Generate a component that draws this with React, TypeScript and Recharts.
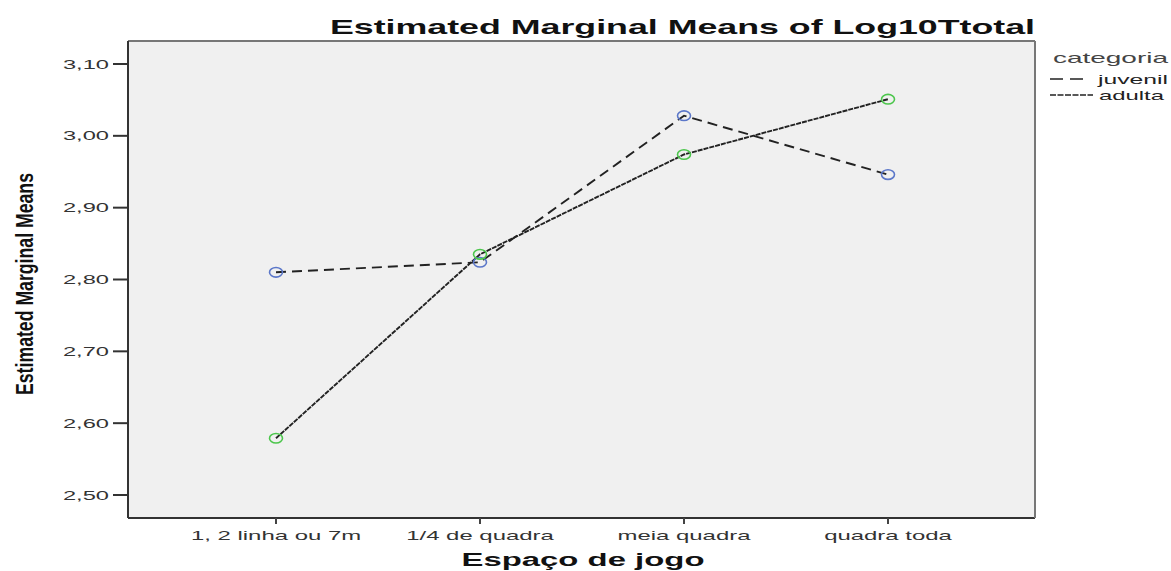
import React from 'react';
import { LineChart, Line, XAxis, YAxis, CartesianGrid, Legend, Label } from 'recharts';

const categories = ['1, 2 linha ou 7m', '1/4 de quadra', 'meia quadra', 'quadra toda'];
const juvenilValues = [2.81, 2.824, 3.028, 2.946];
const adultaValues = [2.579, 2.835, 2.974, 3.051];
const yTicks = [2.5, 2.6, 2.7, 2.8, 2.9, 3.0, 3.1];
const seriesNames = ['juvenil', 'adulta'];
const legendTitle = 'categoria';
const chartTitle = 'Estimated Marginal Means of Log10Ttotal';
const xTitle = 'Espaço de jogo';
const yTitle = 'Estimated Marginal Means';

const data = categories.map((c, i) => ({ cat: c, juvenil: juvenilValues[i], adulta: adultaValues[i] }));

const FONT = '"Liberation Sans", Arial, sans-serif';
const SX = 1.84;

const XTick = (props: any) => {
  const { x, y, payload } = props;
  return (
    <text transform={`translate(${x},${y}) scale(${SX},1)`} textAnchor="middle" dy="0.71em" fontSize={13} fontFamily={FONT} fill="#333">
      {payload.value}
    </text>
  );
};

const YTick = (props: any) => {
  const { x, y, payload } = props;
  return (
    <text transform={`translate(${x},${y}) scale(1.82,1)`} textAnchor="end" dy="0.35em" fontSize={13} fontFamily={FONT} fill="#333">
      {Number(payload.value).toFixed(2).replace('.', ',')}
    </text>
  );
};

const makeDot = (color: string) => (props: any) => {
  const { cx, cy, index } = props;
  return <ellipse key={`d-${color}-${index}`} cx={cx} cy={cy} rx={6.5} ry={4.8} fill="none" stroke={color} strokeWidth={1.6} />;
};

const LegendContent = () => (
  <svg width={121} height={62} style={{ display: 'block' }}>
    <text x={3} y={18} fontSize={15} fontFamily={FONT} fill="#444" textLength={115} lengthAdjust="spacingAndGlyphs">{legendTitle}</text>
    <line x1={0} y1={34} x2={36} y2={34} stroke="#222" strokeWidth={1.6} strokeDasharray="13 7" />
    <text x={48} y={39} fontSize={13} fontFamily={FONT} fill="#222" textLength={70} lengthAdjust="spacingAndGlyphs">{seriesNames[0]}</text>
    <line x1={0} y1={50} x2={43} y2={50} stroke="#222" strokeWidth={1.6} strokeDasharray="6 1.5" />
    <text x={49} y={55} fontSize={13} fontFamily={FONT} fill="#222" textLength={65} lengthAdjust="spacingAndGlyphs">{seriesNames[1]}</text>
  </svg>
);

export default function App() {
  return (
    <div style={{ position: 'absolute', left: 0, top: 0, width: 1171, height: 571, background: '#fff' }}>
      <LineChart width={1171} height={571} data={data} margin={{ top: 40, right: 135, bottom: 0, left: 0 }}>
        <CartesianGrid xAxisId="bottom" yAxisId="left" horizontal={false} vertical={false} fill="#f0f0f0" stroke="none" />
        <XAxis
          xAxisId="bottom"
          dataKey="cat"
          height={53}
          padding={{ left: 148, right: 147 }}
          tick={<XTick />}
          tickSize={6}
          tickMargin={7}
          tickLine={{ stroke: '#444', strokeWidth: 2 }}
          axisLine={{ stroke: '#333', strokeWidth: 2 }}
          interval={0}
        >
          <Label
            content={() => (
              <text x={583} y={566} textAnchor="middle" fontSize={18} fontWeight="bold" fontFamily={FONT} fill="#111" textLength={243} lengthAdjust="spacingAndGlyphs">
                {xTitle}
              </text>
            )}
          />
        </XAxis>
        <XAxis
          xAxisId="top"
          orientation="top"
          dataKey="cat"
          height={1}
          padding={{ left: 148, right: 147 }}
          tick={false}
          tickLine={false}
          axisLine={{ stroke: '#777', strokeWidth: 2 }}
        >
          <Label
            content={() => (
              <text x={1035} y={34} textAnchor="end" fontSize={21} fontWeight="bold" fontFamily={FONT} fill="#111" textLength={705} lengthAdjust="spacingAndGlyphs">
                {chartTitle}
              </text>
            )}
          />
        </XAxis>
        <YAxis
          yAxisId="left"
          width={128}
          domain={[2.468, 3.132]}
          ticks={yTicks}
          type="number"
          tick={<YTick />}
          tickSize={15}
          tickMargin={4}
          tickLine={{ stroke: '#333', strokeWidth: 2 }}
          axisLine={{ stroke: '#333', strokeWidth: 2 }}
          interval={0}
        >
          <Label
            content={() => (
              <text x={33} y={284} transform="rotate(-90 33 284)" textAnchor="middle" fontSize={24} fontWeight="bold" fontFamily={FONT} fill="#111" textLength={222} lengthAdjust="spacingAndGlyphs">
                {yTitle}
              </text>
            )}
          />
        </YAxis>
        <YAxis
          yAxisId="right"
          orientation="right"
          width={1}
          domain={[2.468, 3.132]}
          type="number"
          tick={false}
          tickLine={false}
          axisLine={{ stroke: '#777', strokeWidth: 2 }}
        />
        <Legend
          layout="horizontal"
          verticalAlign="middle"
          align="center"
          content={<LegendContent />}
          wrapperStyle={{ position: 'absolute', left: 1050, top: 45, width: 121, height: 62 }}
        />
        <Line
          xAxisId="bottom"
          yAxisId="left"
          dataKey="juvenil"
          name={seriesNames[0]}
          stroke="#222"
          strokeWidth={1.9}
          strokeDasharray="10 6"
          dot={makeDot('#5b77c9')}
          activeDot={false}
          isAnimationActive={false}
        />
        <Line
          xAxisId="bottom"
          yAxisId="left"
          dataKey="adulta"
          name={seriesNames[1]}
          stroke="#222"
          strokeWidth={1.9}
          strokeDasharray="5 1"
          dot={makeDot('#4cc64c')}
          activeDot={false}
          isAnimationActive={false}
        />
      </LineChart>
    </div>
  );
}
